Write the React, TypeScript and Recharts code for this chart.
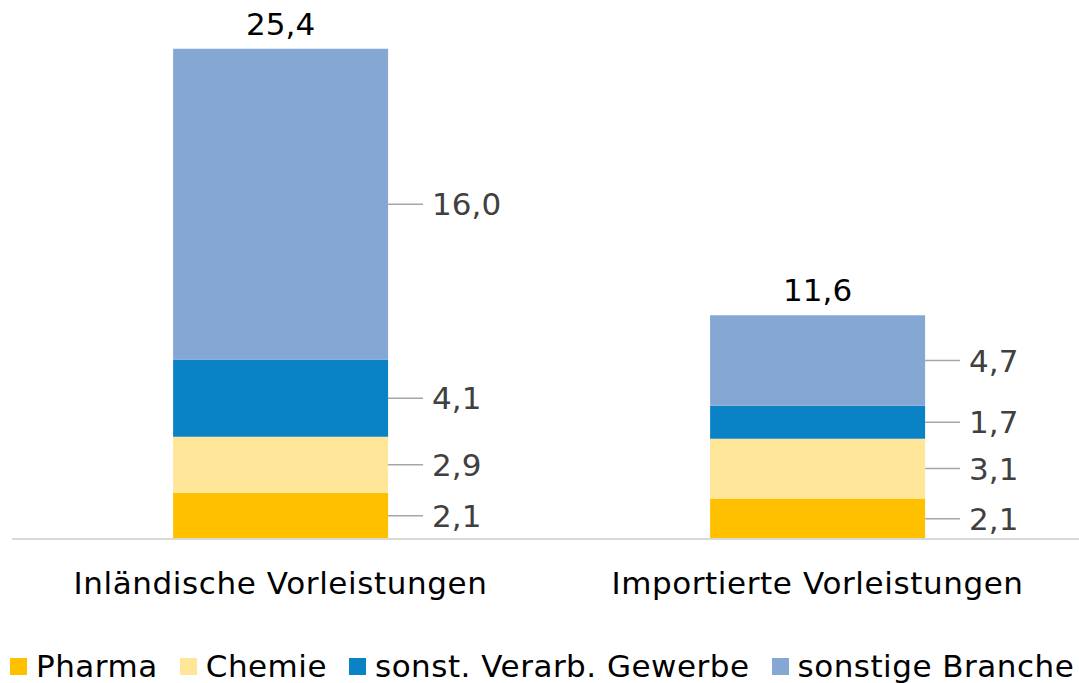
import React from "react";
import { BarChart, Bar, XAxis, YAxis, Legend, LabelList } from "recharts";

const categories = ["Inländische Vorleistungen", "Importierte Vorleistungen"];

// bar heights as drawn; the printed labels differ slightly in the source
const pharma = [2.4, 2.1];
const chemie = [2.9, 3.1];
const verarb = [4.0, 1.7];
const sonstige = [16.1, 4.7];

const pharmaLabels = ["2,1", "2,1"];
const chemieLabels = ["2,9", "3,1"];
const verarbLabels = ["4,1", "1,7"];
const sonstigeLabels = ["16,0", "4,7"];

const series = [
  { key: "pharma", name: "Pharma", color: "#FFC000" },
  { key: "chemie", name: "Chemie", color: "#FFE699" },
  { key: "verarb", name: "sonst. Verarb. Gewerbe", color: "#0A82C6" },
  { key: "sonstige", name: "sonstige Branche", color: "#84A8D3" },
];

const fmt = (v: number) => v.toFixed(1).replace(".", ",");

const data = categories.map((name, i) => ({
  name,
  pharma: pharma[i],
  chemie: chemie[i],
  verarb: verarb[i],
  sonstige: sonstige[i],
  pharmaLabel: pharmaLabels[i],
  chemieLabel: chemieLabels[i],
  verarbLabel: verarbLabels[i],
  sonstigeLabel: sonstigeLabels[i],
  total: fmt(pharma[i] + chemie[i] + verarb[i] + sonstige[i]),
}));

const FONT = "Verdana, 'DejaVu Sans', sans-serif";

const SegmentLabel = (props: any) => {
  const { x, y, width, height, value } = props;
  const cy = Number(y) + Number(height) / 2;
  const x0 = Number(x) + Number(width);
  return (
    <g>
      <line x1={x0} y1={cy} x2={x0 + 35} y2={cy} stroke="#A6A6A6" strokeWidth={1.5} />
      <text x={x0 + 44} y={cy} dy="0.36em" fontSize={31} fill="#404040" fontFamily={FONT}>
        {value}
      </text>
    </g>
  );
};

const TotalLabel = (props: any) => {
  const { x, y, width, value } = props;
  return (
    <text
      x={Number(x) + Number(width) / 2}
      y={Number(y) - 14}
      textAnchor="middle"
      fontSize={31}
      fill="#000"
      fontFamily={FONT}
    >
      {value}
    </text>
  );
};

const CategoryTick = ({ x, y, payload }: any) => (
  <text
    x={x}
    y={y}
    dy={55}
    textAnchor="middle"
    fontSize={31}
    letterSpacing={0.6}
    fill="#000"
    fontFamily={FONT}
  >
    {payload.value}
  </text>
);

const LegendContent = () => (
  <div
    style={{
      display: "flex",
      alignItems: "center",
      height: 34,
      whiteSpace: "nowrap",
      fontSize: 31,
      letterSpacing: 0.5,
      fontFamily: FONT,
      color: "#000",
    }}
  >
    {series.map((s) => (
      <span key={s.key} style={{ display: "flex", alignItems: "center", marginRight: 22 }}>
        <span style={{ width: 17, height: 17, background: s.color, marginRight: 9, display: "inline-block" }} />
        {s.name}
      </span>
    ))}
  </div>
);

export default function App() {
  return (
    <div
      style={{
        position: "absolute",
        left: 0,
        top: 0,
        width: 1079,
        height: 683,
        overflow: "hidden",
        background: "#fff",
      }}
    >
      <BarChart
        width={1100}
        height={683}
        data={data}
        margin={{ top: 18, right: 14, left: 12, bottom: 0 }}
        barCategoryGap="30%"
      >
        <XAxis
          dataKey="name"
          axisLine={{ stroke: "#D9D9D9", strokeWidth: 2 }}
          tickLine={false}
          tickSize={0}
          tickMargin={0}
          height={110}
          interval={0}
          tick={<CategoryTick />}
        />
        <YAxis hide domain={[0, 27]} />
        <Legend
          verticalAlign="bottom"
          align="left"
          content={<LegendContent />}
          wrapperStyle={{ left: 10, bottom: 0, width: "auto" }}
        />
        <Bar dataKey="pharma" name="Pharma" stackId="a" fill="#FFC000" isAnimationActive={false}>
          <LabelList dataKey="pharmaLabel" content={<SegmentLabel />} />
        </Bar>
        <Bar dataKey="chemie" name="Chemie" stackId="a" fill="#FFE699" isAnimationActive={false}>
          <LabelList dataKey="chemieLabel" content={<SegmentLabel />} />
        </Bar>
        <Bar dataKey="verarb" name="sonst. Verarb. Gewerbe" stackId="a" fill="#0A82C6" isAnimationActive={false}>
          <LabelList dataKey="verarbLabel" content={<SegmentLabel />} />
        </Bar>
        <Bar dataKey="sonstige" name="sonstige Branche" stackId="a" fill="#84A8D3" isAnimationActive={false}>
          <LabelList dataKey="sonstigeLabel" content={<SegmentLabel />} />
          <LabelList dataKey="total" content={<TotalLabel />} />
        </Bar>
      </BarChart>
    </div>
  );
}
